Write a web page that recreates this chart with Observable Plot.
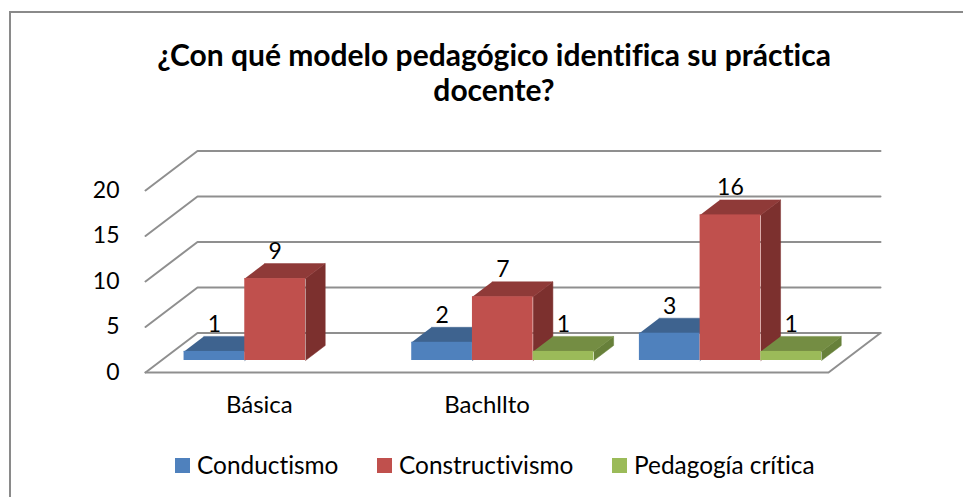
<!DOCTYPE html>
<html lang="es">
<head>
<meta charset="utf-8">
<script src="https://cdn.jsdelivr.net/npm/d3@7"></script>
<script src="https://cdn.jsdelivr.net/npm/@observablehq/plot@0.6"></script>
<style>
html,body{margin:0;padding:0;background:#fff;overflow:hidden}
#page{position:relative;width:963px;height:497px;overflow:hidden;font-family:Lato,"Open Sans",sans-serif;color:#000;font-variant-ligatures:none}
#frame{position:absolute;left:8.5px;top:11px;width:1000px;height:600px;border:2px solid #8a8a8a;box-sizing:border-box}
#title{position:absolute;left:94px;width:800px;top:37px;text-align:center;font-weight:700;font-size:30px;line-height:35px}
#chart{position:absolute;left:0;top:0}
#chart svg{overflow:visible;background:none}
.lg{position:absolute;top:450px;font-size:24.4px;line-height:30px;white-space:nowrap}
.sw{position:absolute;top:458px;width:15px;height:15px}
</style>
</head>
<body>
<div id="page">
  <div id="frame"></div>
  <div id="chart"></div>
  <div id="title">¿Con qué modelo pedagógico identifica su práctica<br>docente?</div>
</div>
<script>
const title = "¿Con qué modelo pedagógico identifica su práctica docente?";
const categories = ["Básica", "Bachllto", ""];
const seriesNames = ["Conductismo", "Constructivismo", "Pedagogía crítica"];
const conductismo = [1, 2, 3];
const constructivismo = [9, 7, 16];
const pedagogiaCritica = [null, 1, 1];
const yTicks = [0, 5, 10, 15, 20];
const seriesValues = [conductismo, constructivismo, pedagogiaCritica];

const frontColors = ["#4f81bd", "#c0504d", "#9bbb59"];
const topColors = ["#3e638f", "#8f3a38", "#748d43"];
const sideColors = ["#36567d", "#7c302e", "#67803a"];
const legendLefts = [175, 377, 612];

// oblique projection of the chart's box, expressed in the units of the x and y scales
const depthX = 52 / (683 / 3);
const depthY = 39.5 / (182 / 20);
const px = (u, d) => u + d * depthX;
const py = (v, d) => v + d * depthY;
const barFront = 12 / 39.5, barBack = 27 / 39.5;
const gap = 0.1, barW = 0.8 / 3;

const grid = yTicks.flatMap((v) => [
  {id: v, x: px(0, 0), y: py(v, 0)},
  {id: v, x: px(0, 1), y: py(v, 1)},
  {id: v, x: px(3, 1), y: py(v, 1)}
]);
const floorEdge = [
  {x: px(0, 0), y: py(0, 0)},
  {x: px(3, 0), y: py(0, 0)},
  {x: px(3, 1), y: py(0, 1)}
];

const bars = seriesValues.map((vals, s) =>
  vals.flatMap((v, c) => v == null ? [] : [{s, c, v, u0: c + gap + s * barW, u1: c + gap + (s + 1) * barW}])
);
const poly = (id, color, pts) => pts.map(([x, y]) => ({id, color, x, y}));
const barFaces = (list) => list.flatMap((b) => [
  ...poly(`side-${b.s}-${b.c}`, sideColors[b.s], [
    [px(b.u1, barFront), py(0, barFront)], [px(b.u1, barBack), py(0, barBack)],
    [px(b.u1, barBack), py(b.v, barBack)], [px(b.u1, barFront), py(b.v, barFront)]
  ]),
  ...poly(`top-${b.s}-${b.c}`, topColors[b.s], [
    [px(b.u0, barFront), py(b.v, barFront)], [px(b.u1, barFront), py(b.v, barFront)],
    [px(b.u1, barBack), py(b.v, barBack)], [px(b.u0, barBack), py(b.v, barBack)]
  ])
]);

const fontFamily = 'Lato,"Open Sans",sans-serif';
const chart = Plot.plot({
  width: 963, height: 497,
  marginLeft: 145, marginRight: 135, marginTop: 190, marginBottom: 125,
  style: {background: "none", fontFamily, fontSize: "23px", color: "#000", overflow: "visible"},
  x: {domain: [0, 3]},
  y: {domain: [0, 20]},
  marks: [
    Plot.line(grid, {x: "x", y: "y", z: "id", stroke: "#8f8f8f", strokeWidth: 2}),
    Plot.line(floorEdge, {x: "x", y: "y", stroke: "#8f8f8f", strokeWidth: 2}),
    ...bars.flatMap((list, s) => [
      Plot.line(barFaces(list), {x: "x", y: "y", z: "id", fill: "color", stroke: "color", strokeWidth: 0.5}),
      Plot.rect(list, {
        x1: (d) => px(d.u0, barFront), x2: (d) => px(d.u1, barFront),
        y1: () => py(0, barFront), y2: (d) => py(d.v, barFront),
        fill: frontColors[s]
      })
    ]),
    Plot.text(bars.flat(), {
      x: (d) => px((d.u0 + d.u1) / 2, barFront),
      y: (d) => py(d.v, barBack),
      text: "v", dy: -12, fill: "#000", fontSize: 23
    }),
    Plot.axisY({ticks: yTicks, tickSize: 0, tickPadding: 26, fontSize: 23, label: null}),
    Plot.axisX({
      ticks: categories.map((_, i) => i + 0.5),
      tickFormat: (t) => categories[Math.floor(t)],
      tickSize: 0, tickPadding: 23, fontSize: 24, label: null
    })
  ]
});
document.getElementById("chart").append(chart);

const page = document.getElementById("page");
seriesNames.forEach((name, i) => {
  const sw = document.createElement("div");
  sw.className = "sw";
  sw.style.left = legendLefts[i] + "px";
  sw.style.background = frontColors[i];
  page.append(sw);
  const t = document.createElement("div");
  t.className = "lg";
  t.style.left = legendLefts[i] + 22 + "px";
  t.textContent = name;
  page.append(t);
});
</script>
</body>
</html>
